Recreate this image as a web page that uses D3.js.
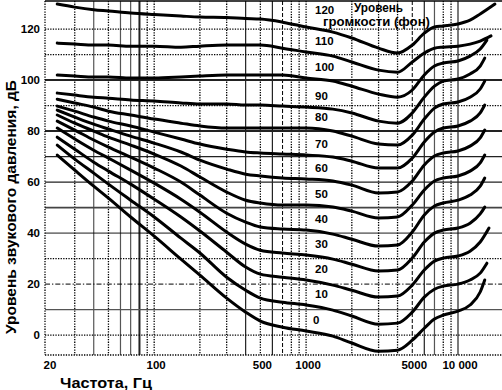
<!DOCTYPE html>
<html><head><meta charset="utf-8">
<script src="https://cdnjs.cloudflare.com/ajax/libs/d3/7.8.5/d3.min.js"></script>
<style>
body{margin:0;background:#fff}
svg{display:block}
text{font-family:"Liberation Sans",Arial,Helvetica,sans-serif;fill:#000;font-weight:bold}
</style>
</head><body>
<svg id="chart" width="502" height="390"></svg>
<script>
// ---- data ----
const phons = [0, 10, 20, 30, 40, 50, 60, 70, 80, 90, 100, 110, 120];
const freqs = [23, 30, 40, 50, 70, 100, 150, 200, 300, 400, 500, 700, 1000, 1500, 2000, 3000, 4000, 5000, 6000, 7000, 8000, 10000, 12000, 14000];
const spl0   = [70.6, 64.7, 58.4, 53.7, 46.3, 38.8, 29.8, 23.5, 14.5, 9.0, 5.5, 3.1, 1.6, -0.4, -3.1, -6.3, -5.9, -2.0, 2.7, 6.3, 7.8, 9.4, 11.8, 16.9];
const spl10  = [74.5, 69.0, 63.5, 59.2, 52.9, 46.3, 38.0, 32.2, 22.7, 17.6, 14.5, 12.9, 11.8, 9.8, 7.5, 4.3, 4.7, 9.0, 14.9, 18.0, 19.2, 20.0, 21.6, 24.3];
const spl20  = [77.6, 72.9, 67.8, 64.3, 59.2, 53.3, 46.3, 40.8, 32.5, 26.7, 23.9, 22.7, 21.6, 19.6, 17.6, 14.9, 15.3, 19.6, 25.5, 29.0, 30.2, 31.0, 32.9, 36.5];
const spl30  = [81.2, 76.9, 72.5, 69.4, 64.7, 59.6, 53.3, 48.2, 40.4, 35.7, 33.3, 32.2, 31.4, 29.8, 27.8, 25.1, 25.5, 30.2, 36.5, 40.0, 41.2, 42.0, 43.9, 47.5];
const spl40  = [83.9, 80.4, 76.5, 73.7, 69.8, 65.5, 60.0, 54.9, 47.8, 44.3, 42.4, 41.6, 41.2, 39.6, 37.6, 34.9, 35.3, 40.4, 47.1, 50.6, 51.8, 52.9, 54.9, 58.4];
const spl50  = [86.3, 83.1, 80.0, 77.6, 74.5, 71.0, 66.3, 62.0, 56.1, 52.9, 51.8, 51.0, 51.0, 50.2, 48.6, 45.9, 46.3, 51.0, 56.9, 60.4, 61.6, 62.4, 64.3, 67.5];
const spl60  = [88.2, 85.5, 82.7, 80.8, 78.0, 75.3, 71.8, 68.6, 65.1, 63.1, 62.4, 61.6, 61.2, 60.4, 58.8, 55.7, 56.1, 60.4, 66.7, 70.2, 71.4, 72.2, 74.1, 77.3];
const spl70  = [89.8, 87.8, 85.5, 83.9, 82.0, 79.6, 76.9, 74.9, 72.9, 71.8, 71.4, 71.0, 70.6, 69.8, 68.2, 65.5, 65.5, 69.4, 75.7, 79.6, 81.2, 82.0, 83.9, 87.1];
const spl80  = [92.5, 91.0, 89.4, 87.8, 86.3, 84.7, 83.1, 82.0, 81.2, 81.2, 81.2, 81.2, 81.2, 80.0, 78.0, 74.9, 74.5, 78.4, 84.7, 89.0, 90.6, 91.4, 93.3, 96.5];
const spl90  = [94.9, 94.1, 93.3, 92.9, 92.2, 91.8, 91.0, 90.6, 90.6, 90.2, 90.2, 89.8, 89.4, 88.6, 87.1, 83.9, 83.1, 87.1, 93.3, 97.6, 99.6, 100.4, 102.4, 105.5];
const spl100 = [102.0, 101.6, 101.2, 101.2, 100.8, 100.8, 101.2, 101.6, 102.0, 102.0, 102.0, 102.0, 100.8, 99.6, 97.6, 94.5, 93.3, 96.1, 102.0, 105.5, 106.7, 107.5, 109.4, 112.2];
const spl110 = [114.5, 114.1, 113.7, 113.7, 113.3, 113.3, 112.9, 113.3, 113.7, 113.7, 113.7, 112.5, 111.0, 109.4, 107.1, 103.9, 103.1, 107.1, 110.6, 112.5, 112.9, 113.3, 114.1, 115.3];
const spl120 = [129.8, 128.6, 127.6, 127.1, 126.3, 125.7, 125.1, 124.7, 124.5, 124.1, 123.9, 122.7, 120.8, 118.8, 116.5, 112.5, 110.6, 113.7, 118.4, 120.8, 121.2, 122.0, 123.5, 125.9];
const splRows = [spl0, spl10, spl20, spl30, spl40, spl50, spl60, spl70, spl80, spl90, spl100, spl110, spl120];
const endFreq = [15000, 15500, 16000, 15000, 15000, 15000, 15000, 15000, 15000, 15000, 15500, 16500, 17500];
const endSpl  = [21.6, 28.2, 42.0, 50.2, 61.6, 70.6, 80.4, 90.2, 99.6, 108.6, 115.7, 117.3, 129.8];

const yTicks = [0, 20, 40, 60, 80, 100, 120];
const xTicks = [20, 100, 500, 1000, 5000, 10000];
const xTickText = ["20", "100", "500", "1000", "5000", "10 000"];
const xGrid = [30, 40, 50, 60, 70, 80, 90, 100, 200, 300, 400, 500, 600, 700, 800, 900, 1000, 2000, 3000, 4000, 5000, 6000, 7000, 8000, 9000, 10000];
const yGrid = [0, 10, 20, 30, 40, 50, 60, 70, 80, 90, 100, 110, 120];
const xLabel = "Частота, Гц";
const yLabel = "Уровень звукового давления, дБ";
const legendLines = ["Уровень", "громкости (фон)"];

// ---- styles ----
const xGridKind = ['dot','gray','dot','gray','gray','thick','dot','dot','dot','dot','solid','dot','solid','dash','dot','dot','dot','dot','dot','dot','dash','solid','gray','dot','dot','solid'];
const yGridKind = ['dot','gray','dashdot','dot','thin','gray2','solid','solid','thick','dot','thick','dot','dot'];
const kinds = {
  dot:    {c:'#000', w:1.3, d:'1.3,1.3'},
  gray:   {c:'#555', w:1.2, d:null},
  gray2:  {c:'#444', w:1.6, d:null},
  solid:  {c:'#222', w:1.2, d:null},
  thin:   {c:'#000', w:0.9, d:null},
  thick:  {c:'#222', w:2,   d:null},
  dash:   {c:'#000', w:1,   d:'4,2'},
  dashdot:{c:'#000', w:1,   d:'5,2,1.3,2'}
};

const L = 45, R = 502, T = 1, B = 355;
const x = d3.scaleLog().domain([20, 10000]).range([48, 458]);
const y = d3.scaleLinear().domain([-7.8, 131]).range([355, 1]);

const svg = d3.select('#chart');
svg.append('defs').append('clipPath').attr('id','clip')
  .append('rect').attr('x',L).attr('y',T).attr('width',R-L).attr('height',B-T);

const grid = svg.append('g');
grid.selectAll('line.v').data(xGrid).join('line')
  .attr('x1', d => x(d)).attr('x2', d => x(d)).attr('y1', T).attr('y2', B)
  .each(function(d,i){ const k = kinds[xGridKind[i]];
    d3.select(this).attr('stroke', k.c).attr('stroke-width', k.w).attr('stroke-dasharray', k.d); });
grid.selectAll('line.h').data(yGrid).join('line')
  .attr('y1', d => y(d)).attr('y2', d => y(d)).attr('x1', L).attr('x2', R)
  .each(function(d,i){ const k = kinds[yGridKind[i]];
    d3.select(this).attr('stroke', k.c).attr('stroke-width', k.w).attr('stroke-dasharray', k.d); });

// borders
svg.append('line').attr('x1',L).attr('x2',R).attr('y1',T).attr('y2',T).attr('stroke','#000').attr('stroke-width',1.5);
svg.append('line').attr('x1',L).attr('x2',L).attr('y1',T).attr('y2',B).attr('stroke','#000').attr('stroke-width',1.3).attr('stroke-dasharray','1.3,1.3');
svg.append('line').attr('x1',L).attr('x2',R).attr('y1',B).attr('y2',B).attr('stroke','#000').attr('stroke-width',1.3).attr('stroke-dasharray','1.3,1.3');

// curves
const line = d3.line().x(d => x(d[0])).y(d => y(d[1])).curve(d3.curveMonotoneX);
const curves = svg.append('g').attr('clip-path','url(#clip)');
splRows.forEach((row, i) => {
  const pts = freqs.map((f, j) => [f, row[j]]);
  pts.push([endFreq[i], endSpl[i]]);
  curves.append('path').attr('d', line(pts)).attr('fill','none')
    .attr('stroke','#000').attr('stroke-width',3).attr('stroke-linecap','round').attr('stroke-linejoin','round');
});

// curve labels (placed above each curve near 1 kHz)
const k1000 = freqs.indexOf(1000);
phons.forEach((p, i) => {
  const top = p === 120;
  svg.append('text').attr('x', x(1000) + (p === 0 ? 7 : 9))
    .attr('y', top ? 10 : y(splRows[i][k1000]) - 11).attr('dy','0.35em')
    .attr('font-size', 11.5).text(p);
});
svg.append('text').attr('x', 354).attr('y', 8).attr('dy','0.35em').attr('font-size', 12)
  .attr('textLength', 49).attr('lengthAdjust','spacingAndGlyphs').text(legendLines[0]);
svg.append('text').attr('x', 323).attr('y', 22).attr('dy','0.35em').attr('font-size', 12)
  .attr('textLength', 107).attr('lengthAdjust','spacingAndGlyphs').text(legendLines[1]);

// axis labels
svg.selectAll('text.yt').data(yTicks).join('text').attr('class','yt')
  .attr('x', 40).attr('y', d => y(d)).attr('dy','0.35em').attr('text-anchor','end')
  .attr('font-size', 11.5).text(d => d);
svg.selectAll('text.xt').data(xTicks).join('text').attr('class','xt')
  .attr('x', d => x(d) + 2).attr('y', 365).attr('dy','0.35em').attr('text-anchor','middle')
  .attr('font-size', 11.5).text((d,i) => xTickText[i]);
svg.append('text').attr('x', 60).attr('y', 383).attr('dy','0.35em').attr('font-size', 14)
  .attr('textLength', 92).attr('lengthAdjust','spacingAndGlyphs').text(xLabel);
svg.append('text').attr('transform','translate(11,207) rotate(-90)').attr('dy','0.35em')
  .attr('text-anchor','middle').attr('font-size', 14)
  .attr('textLength', 254).attr('lengthAdjust','spacingAndGlyphs').text(yLabel);
</script>
</body></html>
